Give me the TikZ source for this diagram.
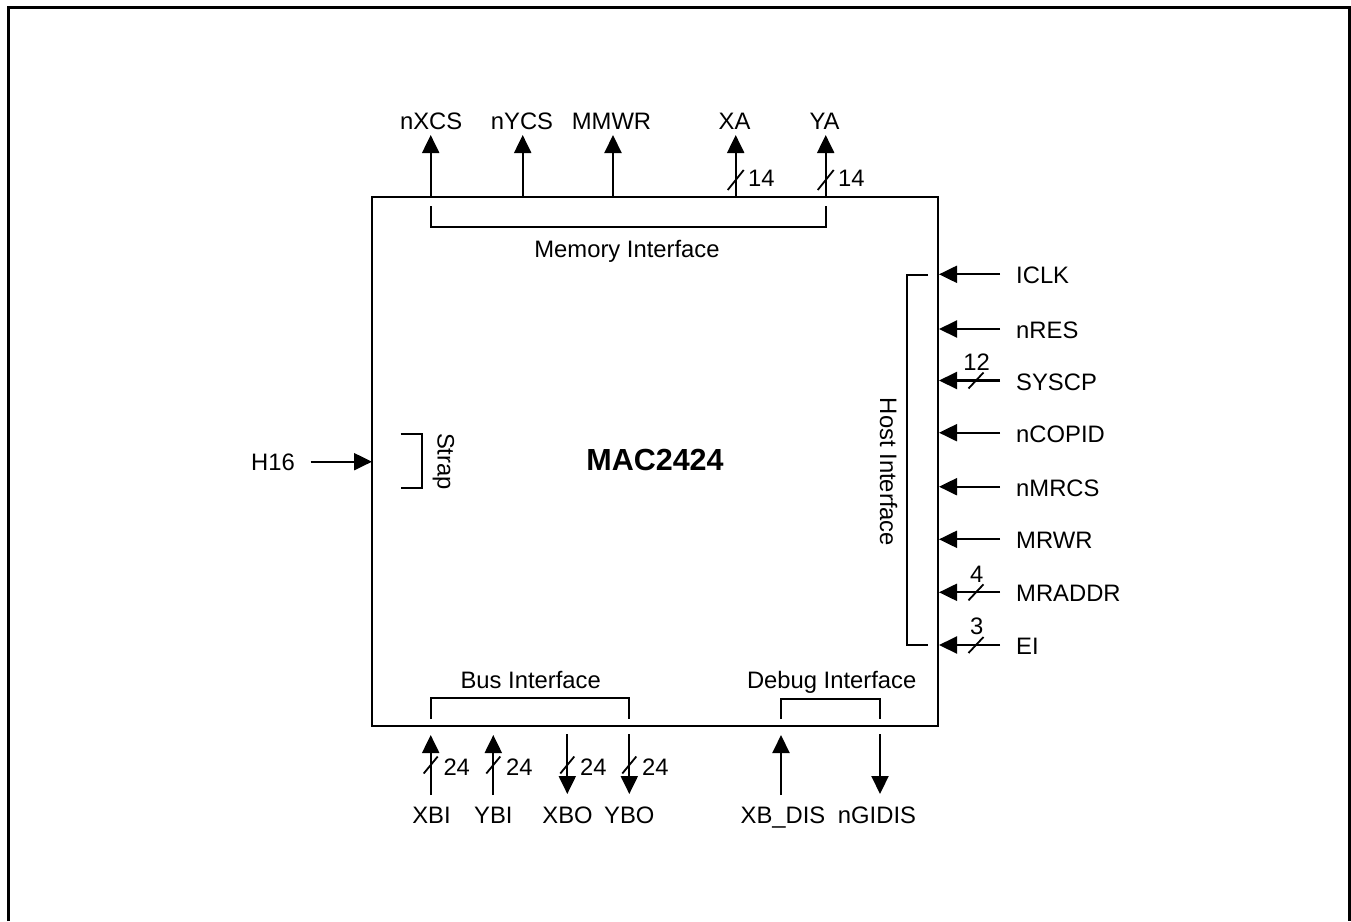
\documentclass[tikz,border=0pt]{standalone}
\usepackage{fontspec}
\setmainfont{Liberation Sans}
\usetikzlibrary{arrows.meta}
\begin{document}
\begin{tikzpicture}[x=1pt,y=-1pt,
  wire/.style={line width=2.1pt},
  sig/.style={wire,-{Triangle[length=18pt,width=17pt]}},
  brk/.style={line width=2pt},
  lbl/.style={inner sep=0pt,font=\fontsize{23.8}{28}\selectfont},
  slash/.style={line width=1.8pt}
]
\useasboundingbox (0,0) rectangle (1351,921);
% outer frame (open at bottom)
\draw[line width=3pt] (8.5,921) -- (8.5,7.5) -- (1349.5,7.5) -- (1349.5,921);

% main block
\node[draw,line width=2.1pt,minimum width=566pt,minimum height=529pt,inner sep=0pt] (box) at (655,461.5) {};
\node[inner sep=0pt,anchor=base,font=\fontsize{30.5}{36}\selectfont\bfseries] (title) at (655,470.3) {MAC2424};

% ---------- top: memory interface ----------
\foreach \n/\x in {nxcs/430.7,nycs/522.7,mmwr/613,xa/735.7,ya/825.7}{
  \coordinate (b-\n) at (\x,197);
  \coordinate (f-\n) at (\x,135);
}
\node[lbl,anchor=base] (l-nxcs) at (431.2,129) {nXCS};
\node[lbl,anchor=base] (l-nycs) at (522,129) {nYCS};
\node[lbl,anchor=base] (l-mmwr) at (611.5,129) {MMWR};
\node[lbl,anchor=base] (l-xa) at (734.5,129) {XA};
\node[lbl,anchor=base] (l-ya) at (824.5,129) {YA};
\foreach \n in {nxcs,nycs,mmwr,xa,ya}{\draw[sig] (b-\n) -- (f-\n);}
\coordinate (s-xa) at (735.7,180);
\coordinate (s-ya) at (825.7,180);
\foreach \n in {xa,ya}{\draw[slash] ([shift={(-8,10)}]s-\n) -- ([shift={(8,-10)}]s-\n);}
\node[lbl,anchor=base west] (w-xa) at (748,186) {14};
\node[lbl,anchor=base west] (w-ya) at (838,186) {14};
\coordinate (m1) at (430.7,206);
\coordinate (m2) at (825.7,206);
\draw[brk] (m1) -- (430.7,226.7) -- (825.7,226.7) -- (m2);
\node[lbl,anchor=base] (memif) at (627,257) {Memory Interface};

% ---------- right: host interface ----------
\foreach \n/\y/\t in {iclk/274.3/ICLK,nres/329/nRES,syscp/380.5/SYSCP,ncopid/432.7/nCOPID,nmrcs/486.7/nMRCS,mrwr/539.3/MRWR,mraddr/592.3/MRADDR,ei/645/EI}{
  \coordinate (b-\n) at (939,\y);
  \coordinate (f-\n) at (1000,\y);
  \node[lbl,anchor=base west] (l-\n) at (1016,\y+9.5) {\t};
  \draw[sig] (f-\n) -- (b-\n);
}
\foreach \n/\y in {syscp/380.5,mraddr/592.3,ei/645}{
  \coordinate (s-\n) at (976,\y);
  \draw[slash] ([shift={(-7.5,8)}]s-\n) -- ([shift={(7.5,-8)}]s-\n);
}
\node[lbl,anchor=base] (w-syscp) at (976.7,370) {12};
\node[lbl,anchor=base] (w-mraddr) at (976.7,582) {4};
\node[lbl,anchor=base] (w-ei) at (976.7,634) {3};
\coordinate (h1) at (928,274.5);
\coordinate (h2) at (928,645);
\draw[brk] (h1) -- (907,274.5) -- (907,645) -- (h2);
\node[lbl,anchor=base,rotate=-90] (hostif) at (880,472) {Host Interface};

% ---------- left: strap ----------
\coordinate (b-h16) at (372,461.7);
\coordinate (f-h16) at (310.7,461.7);
\draw[sig] (f-h16) -- (b-h16);
\node[lbl,anchor=base] (l-h16) at (273,470) {H16};
\coordinate (st1) at (400.7,434.3);
\coordinate (st2) at (400.7,488.3);
\draw[brk] (st1) -- (422.3,434.3) -- (422.3,488.3) -- (st2);
\node[lbl,anchor=base,rotate=-90] (strap) at (437.5,461.5) {Strap};

% ---------- bottom: bus interface ----------
\foreach \n/\x/\t in {xbi/430.7/XBI,ybi/493.3/YBI,xbdis/781/XB\_DIS}{
  \coordinate (b-\n) at (\x,735);
  \coordinate (f-\n) at (\x,795);
  \draw[sig] (f-\n) -- (b-\n);
}
\foreach \n/\x in {xbo/567.3,ybo/629.3,ngidis/880}{
  \coordinate (b-\n) at (\x,734);
  \coordinate (f-\n) at (\x,794);
  \draw[sig] (b-\n) -- (f-\n);
}
\node[lbl,anchor=base] (l-xbi) at (431.5,823) {XBI};
\node[lbl,anchor=base] (l-ybi) at (493.3,823) {YBI};
\node[lbl,anchor=base] (l-xbo) at (567.5,823) {XBO};
\node[lbl,anchor=base] (l-ybo) at (629.3,823) {YBO};
\node[lbl,anchor=base] (l-xbdis) at (783,823) {XB\_DIS};
\node[lbl,anchor=base] (l-ngidis) at (877,823) {nGIDIS};
\foreach \n/\x in {xbi/430.7,ybi/493.3,xbo/567.3,ybo/629.3}{
  \coordinate (s-\n) at (\x,765);
  \draw[slash] ([shift={(-7,8.5)}]s-\n) -- ([shift={(7,-8.5)}]s-\n);
  \node[lbl,anchor=base west] (w-\n) at (\x+12.6,775.6) {24};
}
\coordinate (bu1) at (430.7,719);
\coordinate (bu2) at (629.3,719);
\draw[brk] (bu1) -- (430.7,698) -- (629.3,698) -- (bu2);
\node[lbl,anchor=base] (busif) at (530.7,688) {Bus Interface};
\coordinate (db1) at (781,719);
\coordinate (db2) at (880,719);
\draw[brk] (db1) -- (781,699) -- (880,699) -- (db2);
\node[lbl,anchor=base] (dbgif) at (831.7,688) {Debug Interface};
\end{tikzpicture}
\end{document}
